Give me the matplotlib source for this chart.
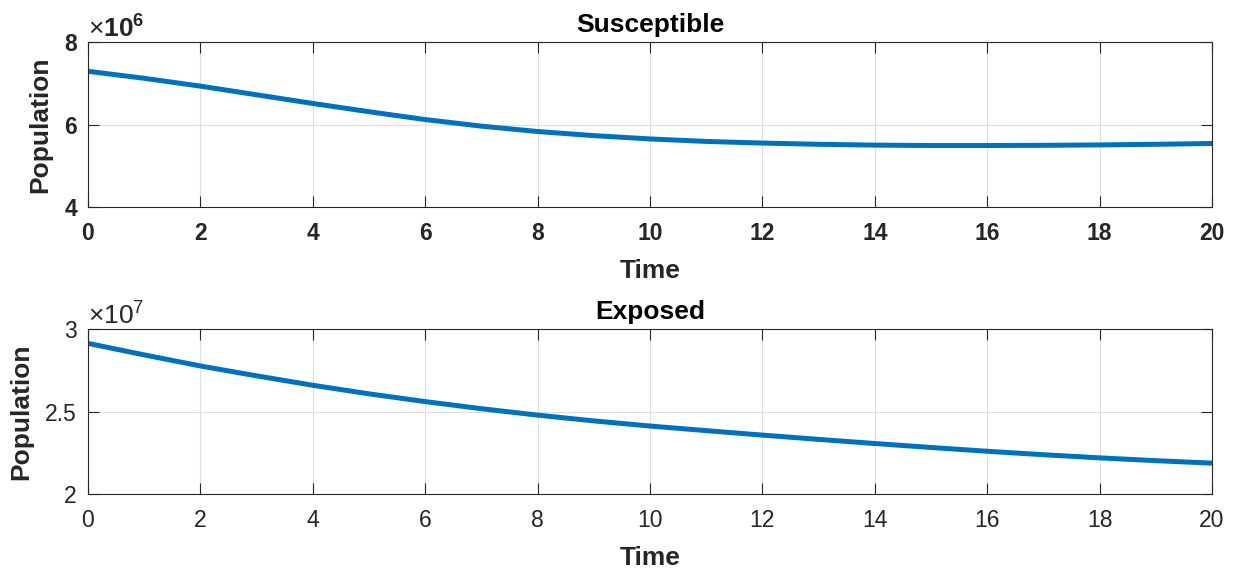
import matplotlib
matplotlib.use("Agg")
import matplotlib.pyplot as plt
from matplotlib.ticker import ScalarFormatter, MultipleLocator

plt.rcParams['font.family'] = ['Liberation Sans', 'DejaVu Sans']
plt.rcParams['mathtext.fontset'] = 'custom'
plt.rcParams['mathtext.rm'] = 'Liberation Sans'
plt.rcParams['mathtext.bf'] = 'Liberation Sans:bold'

time = list(range(0, 21))
susceptible = [7.29e6, 7.12e6, 6.93e6, 6.72e6, 6.51e6, 6.31e6, 6.12e6, 5.96e6,
               5.83e6, 5.73e6, 5.65e6, 5.59e6, 5.55e6, 5.52e6, 5.50e6, 5.49e6,
               5.49e6, 5.495e6, 5.505e6, 5.52e6, 5.54e6]
exposed = [2.913e7, 2.843e7, 2.776e7, 2.716e7, 2.659e7, 2.607e7, 2.560e7, 2.517e7,
           2.478e7, 2.443e7, 2.412e7, 2.384e7, 2.357e7, 2.331e7, 2.306e7, 2.282e7,
           2.259e7, 2.238e7, 2.219e7, 2.202e7, 2.187e7]

titles = ['Susceptible', 'Exposed']
ylims = [(4e6, 8e6), (2e7, 3e7)]
ysteps = [2e6, 0.5e7]
tick_weights = ['bold', 'normal']

LINE = '#0072BD'
DARK = '#262626'


class GFormatter(ScalarFormatter):
    def _set_format(self):
        self.format = '%g'


fig = plt.figure(figsize=(12.44, 5.73), dpi=100)
W, H = 1244, 573
boxes = [(88, 42, 1212, 207), (88, 329, 1212, 494)]
series = [susceptible, exposed]

for i in range(2):
    l, t, r, b = boxes[i]
    ax = fig.add_axes([l / W, 1 - b / H, (r - l) / W, (b - t) / H])
    ax.plot(time, series[i], color=LINE, linewidth=3.6, solid_capstyle='butt')
    ax.set_xlim(0, 20)
    ax.set_ylim(*ylims[i])
    ax.xaxis.set_major_locator(MultipleLocator(2))
    ax.yaxis.set_major_locator(MultipleLocator(ysteps[i]))
    fmt = GFormatter(useMathText=True)
    fmt.set_powerlimits((0, 0))
    ax.yaxis.set_major_formatter(fmt)
    ax.grid(True, color='#dedede', linewidth=0.8)
    ax.set_axisbelow(True)
    for s in ax.spines.values():
        s.set_color(DARK)
        s.set_linewidth(0.8)
    ax.tick_params(direction='in', length=8, width=0.8, color=DARK,
                   top=True, right=True, labelsize=16.5, labelcolor=DARK)
    ax.tick_params(axis='x', pad=11)
    ax.tick_params(axis='y', pad=8)
    for lab in ax.get_xticklabels() + ax.get_yticklabels():
        lab.set_fontweight(tick_weights[i])
    ot = ax.yaxis.get_offset_text()
    ot.set_fontsize(19)
    ot.set_color(DARK)
    ot.set_fontweight(tick_weights[i])
    ax.set_title(titles[i], fontsize=19, fontweight='bold', color='black', pad=7)
    ax.set_xlabel('Time', fontsize=19, fontweight='bold', color=DARK, labelpad=10)
    ax.set_ylabel('Population', fontsize=19, fontweight='bold', color=DARK, labelpad=8.5)

fig.savefig('out.png', dpi=100)
